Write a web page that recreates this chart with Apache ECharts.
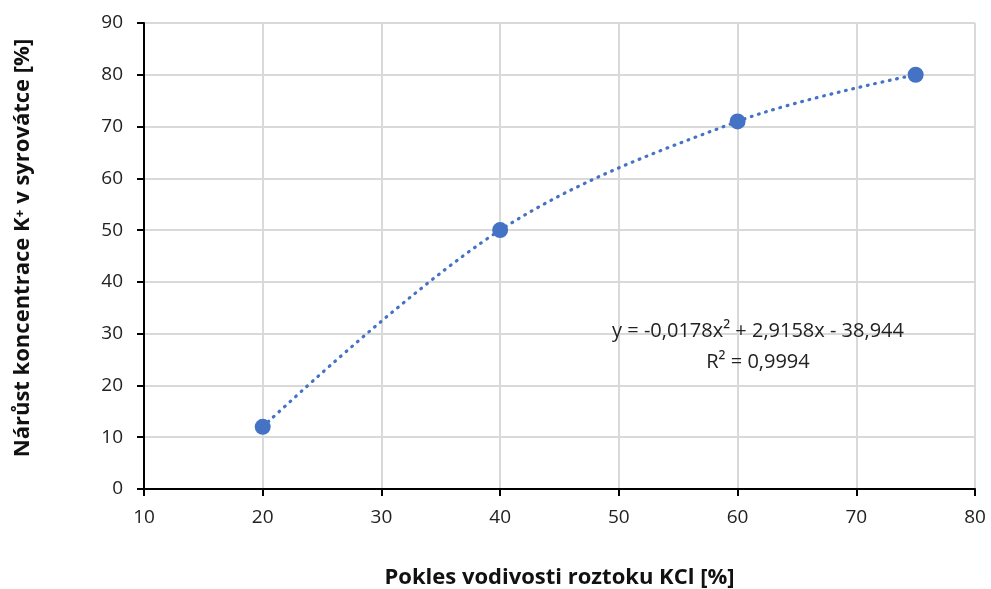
<!DOCTYPE html>
<html>
<head>
<meta charset="utf-8">
<script src="https://cdn.jsdelivr.net/npm/echarts@6/dist/echarts.min.js"></script>
<style>
  html, body { margin: 0; padding: 0; background: #fff; overflow: hidden; }
  #chart { width: 991px; height: 589px; }
</style>
</head>
<body>
<div id="chart"></div>
<script>
// Measured points: drop in KCl conductivity vs. rise of K+ in whey
const xValues = [20, 40, 60, 75];
const yValues = [12, 50, 71, 80];
const xTicks = [10, 20, 30, 40, 50, 60, 70, 80];
const yTicks = [0, 10, 20, 30, 40, 50, 60, 70, 80, 90];
const trendLabel = ['y = -0,0178x\u00B2 + 2,9158x - 38,944', 'R\u00B2 = 0,9994'];

const FONT = '"Open Sans", "Noto Sans", sans-serif';
const BLUE = '#4472C4';

const points = xValues.map((x, i) => [x, yValues[i]]);

const chart = echarts.init(document.getElementById('chart'), null, { renderer: 'canvas' });
chart.setOption({
  animation: false,
  backgroundColor: '#ffffff',
  grid: { left: 144, right: 16, top: 23, bottom: 100, containLabel: false, outerBoundsMode: 'none' },
  xAxis: {
    type: 'value',
    min: xTicks[0], max: xTicks[xTicks.length - 1], interval: 10,
    name: 'Pokles vodivosti roztoku KCl [%]',
    nameLocation: 'middle', nameGap: 78,
    nameTextStyle: { fontFamily: FONT, fontSize: 22, fontWeight: 'bold', color: '#111' },
    axisLine: { onZero: false, lineStyle: { color: '#000', width: 2 } },
    axisTick: { show: true, length: 7, lineStyle: { color: '#000', width: 2 } },
    axisLabel: { fontFamily: FONT, fontSize: 19, color: '#222', margin: 19 },
    splitLine: { show: true, lineStyle: { color: '#d9d9d9', width: 2 } }
  },
  yAxis: {
    type: 'value',
    min: yTicks[0], max: yTicks[yTicks.length - 1], interval: 10,
    name: 'Nárůst koncentrace K\u207A v syrovátce [%]',
    nameLocation: 'middle', nameGap: 110,
    nameTextStyle: { fontFamily: FONT, fontSize: 22, fontWeight: 'bold', color: '#111', padding: [0, 0, 0, 16] },
    axisLine: { show: true, lineStyle: { color: '#000', width: 2 } },
    axisTick: { show: true, length: 7, lineStyle: { color: '#000', width: 2 } },
    axisLabel: { fontFamily: FONT, fontSize: 19, color: '#222', margin: 21 },
    splitLine: { show: true, lineStyle: { color: '#d9d9d9', width: 2 } }
  },
  series: [
    {
      // dotted polynomial trend through the measurements
      type: 'line',
      data: points,
      smooth: 0.35,
      symbol: 'none',
      lineStyle: { color: BLUE, width: 3.2, type: [0.8, 6.7], cap: 'round' },
      z: 2
    },
    {
      type: 'scatter',
      data: points,
      symbol: 'circle',
      symbolSize: 16,
      itemStyle: { color: BLUE, opacity: 1 },
      z: 3
    }
  ],
  graphic: [
    {
      type: 'text',
      x: 758, y: 331,
      style: {
        text: trendLabel[0],
        textAlign: 'center', textVerticalAlign: 'middle',
        fontFamily: FONT, fontSize: 20, fill: '#222'
      },
      z: 10
    },
    {
      type: 'text',
      x: 758, y: 362,
      style: {
        text: trendLabel[1],
        textAlign: 'center', textVerticalAlign: 'middle',
        fontFamily: FONT, fontSize: 20, fill: '#222'
      },
      z: 10
    }
  ]
});
</script>
</body>
</html>
